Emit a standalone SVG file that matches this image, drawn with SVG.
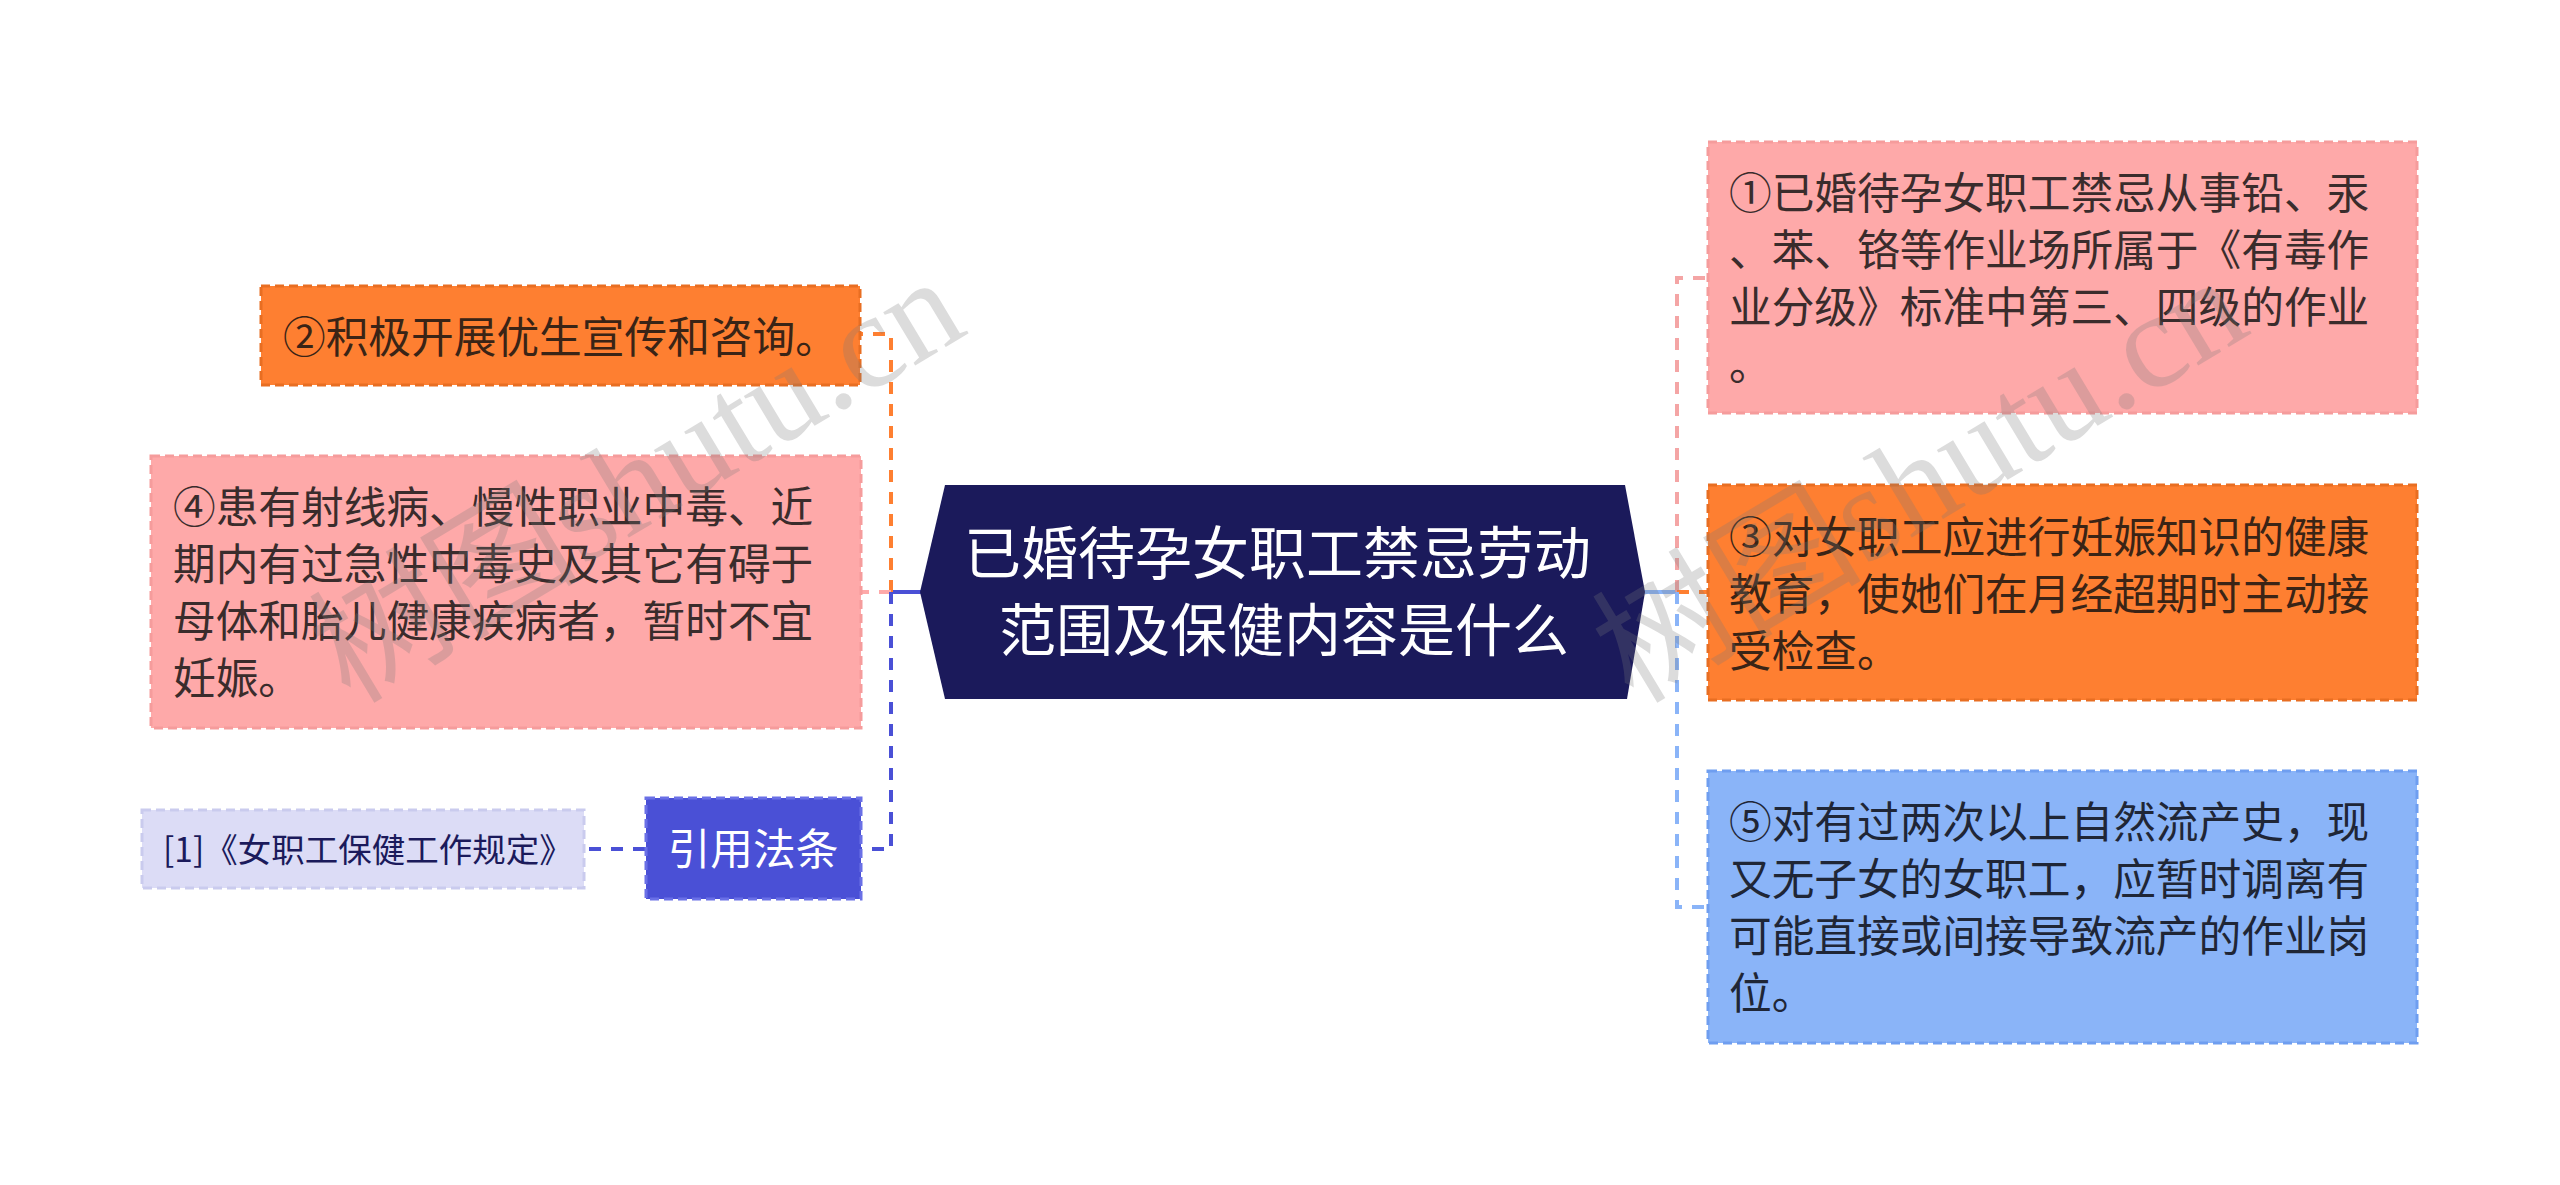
<svg xmlns="http://www.w3.org/2000/svg" width="2560" height="1185" viewBox="0 0 2560 1185">
<style>
.t{font-family:"Noto Sans CJK SC","Noto Sans",sans-serif;font-size:42.7px}
.box{stroke-width:3;stroke-dasharray:9 5}
.ln{fill:none;stroke-width:4}
.dash{stroke-dasharray:12 10}
.wm{font-family:"Liberation Serif","Noto Sans CJK SC",serif;font-size:135px;fill:#7a7a7a;opacity:0.26}
</style>
<rect width="2560" height="1185" fill="#ffffff"/>

<g id="connectors">
  <line class="ln" x1="922" y1="592" x2="891" y2="592" stroke="#4a50d6"/>
  <polyline class="ln dash" points="891,592 891,334 860,334" stroke="#fe7f31"/>
  <line class="ln dash" x1="891" y1="592" x2="861" y2="592" stroke="#fea9a9"/>
  <polyline class="ln dash" points="891,592 891,849 861,849" stroke="#4a50d6"/>
  <line class="ln dash" x1="645" y1="849" x2="584" y2="849" stroke="#4a50d6"/>
  <line class="ln" x1="1641" y1="592" x2="1677" y2="592" stroke="#8ab4f8"/>
  <polyline class="ln dash" points="1677,592 1677,278 1708,278" stroke="#f4a5a5"/>
  <line class="ln dash" x1="1677" y1="592" x2="1708" y2="592" stroke="#fe7f31"/>
  <polyline class="ln dash" points="1677,592 1677,907 1708,907" stroke="#8ab4f8"/>
</g>

<g id="center">
  <polygon points="920,592 945,485 1625,485 1645,592 1627,699 945,699" fill="#1b1a5b"/>
  <text font-family="Noto Sans CJK SC, sans-serif" font-size="57" fill="#ffffff" text-anchor="middle">
    <tspan x="1284" y="574">已婚待孕女职工禁忌劳动</tspan>
    <tspan x="1284" y="651">范围及保健内容是什么</tspan>
  </text>
</g>

<g id="node2">
  <rect class="box" x="261" y="286" width="599" height="99" fill="#fe7f31" stroke="#e86e22"/>
  <text class="t" x="283" y="353" fill="#3a2416">②积极开展优生宣传和咨询。</text>
</g>

<g id="node4">
  <rect class="box" x="151" y="456" width="710" height="272" fill="#fea9a9" stroke="#f59c9c"/>
  <text class="t" fill="#3a2c2c">
    <tspan x="173" y="523">④患有射线病、慢性职业中毒、近</tspan>
    <tspan x="173" y="580">期内有过急性中毒史及其它有碍于</tspan>
    <tspan x="173" y="637">母体和胎儿健康疾病者，暂时不宜</tspan>
    <tspan x="173" y="694">妊娠。</tspan>
  </text>
</g>

<g id="law">
  <rect class="box" x="646" y="798" width="215" height="101" fill="#4a50d6" stroke="#6a70e6"/>
  <text class="t" x="753" y="865" fill="#ffffff" text-anchor="middle">引用法条</text>
</g>

<g id="ref1">
  <rect class="box" x="142" y="810" width="442" height="78" fill="#dcdcf6" stroke="#cacbee"/>
  <text font-family="Noto Sans CJK SC, sans-serif" font-size="33.5" x="163" y="862" fill="#1b1a5b">[1]《女职工保健工作规定》</text>
</g>

<g id="node1">
  <rect class="box" x="1708" y="142" width="709" height="271" fill="#fea9a9" stroke="#f59c9c"/>
  <text class="t" fill="#3a2c2c">
    <tspan x="1729" y="209">①已婚待孕女职工禁忌从事铅、汞</tspan>
    <tspan x="1729" y="266">、苯、铬等作业场所属于《有毒作</tspan>
    <tspan x="1729" y="323">业分级》标准中第三、四级的作业</tspan>
    <tspan x="1729" y="380">。</tspan>
  </text>
</g>

<g id="node3">
  <rect class="box" x="1708" y="485" width="709" height="215" fill="#fe7f31" stroke="#e86e22"/>
  <text class="t" fill="#3a2416">
    <tspan x="1729" y="553">③对女职工应进行妊娠知识的健康</tspan>
    <tspan x="1729" y="610">教育，使她们在月经超期时主动接</tspan>
    <tspan x="1729" y="667">受检查。</tspan>
  </text>
</g>

<g id="node5">
  <rect class="box" x="1708" y="771" width="709" height="272" fill="#8ab4f8" stroke="#6f9ef0"/>
  <text class="t" fill="#1f2636">
    <tspan x="1729" y="838">⑤对有过两次以上自然流产史，现</tspan>
    <tspan x="1729" y="895">又无子女的女职工，应暂时调离有</tspan>
    <tspan x="1729" y="952">可能直接或间接导致流产的作业岗</tspan>
    <tspan x="1729" y="1009">位。</tspan>
  </text>
</g>

<g id="watermark">
  <text class="wm" x="350" y="705" transform="rotate(-31 350 705)">树图shutu.cn</text>
  <text class="wm" x="1633" y="705" transform="rotate(-31 1633 705)">树图shutu.cn</text>
</g>
</svg>
